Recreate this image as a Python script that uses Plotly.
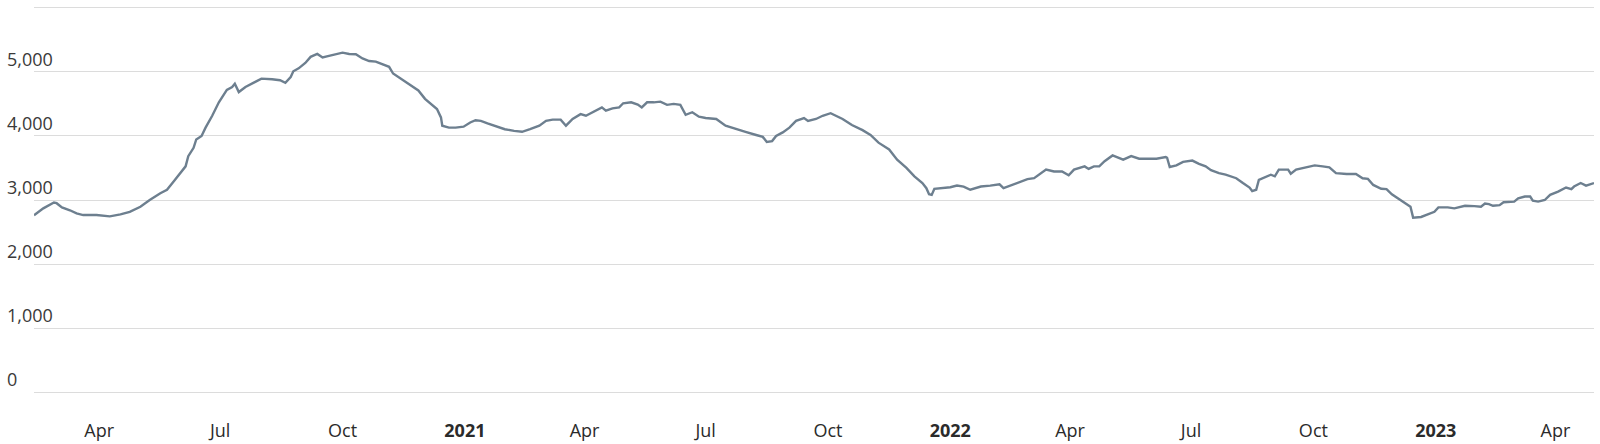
import pandas as pd
import plotly.graph_objects as go

start_date = "2020-02-12"

day_offsets = [
    0, 7, 15, 17, 21, 27, 32, 37, 47, 57, 65, 72, 80, 87, 95, 100, 105, 110, 114, 116, 120, 122, 126, 129, 134, 139, 145, 149, 151, 154, 159, 166,
    171, 179, 185, 189, 193, 195, 199, 204, 208, 213, 217, 221, 226, 232, 237, 242, 247, 252, 257, 262, 267, 270, 277, 283, 289, 294, 299, 303, 306, 307, 312, 317, 323, 328, 332, 336,
    341, 348, 354, 361, 367, 373, 380, 385, 390, 396, 400, 405, 411, 415, 420, 425, 427, 430, 435, 440, 443, 449, 454, 457, 461, 466, 471, 476, 481, 486, 490, 495, 500, 505,
    513, 520, 528, 535, 543, 548, 551, 555, 558, 563, 568, 573, 579, 582, 588, 593, 599, 603, 608, 615, 623, 629, 635, 643, 649, 656, 662, 668, 671, 673, 675,
    677, 682, 689, 694, 699, 704, 712, 719, 726, 729, 734, 741, 747, 752, 757, 761, 767, 773, 778, 782, 790, 793, 797, 801, 805, 811, 819, 825, 831, 837, 844,
    851, 852, 854, 859, 864, 871, 876, 881, 885, 891, 896, 904, 909, 914, 916, 919, 921, 926, 930, 933, 936, 943, 945, 949, 957, 963, 969, 974, 979, 987, 994, 999, 1003, 1007, 1013,
    1017, 1021, 1026, 1031, 1035, 1037, 1043, 1048, 1053, 1056, 1063, 1068, 1076, 1083, 1088, 1091, 1094, 1097, 1102, 1105, 1113, 1116, 1121, 1125, 1127, 1131, 1136, 1140, 1146, 1152, 1156, 1158, 1163, 1167, 1170, 1173,
]

values = [
    2760, 2870, 2960, 2950, 2885, 2840, 2790, 2765, 2765, 2745, 2775, 2815, 2895, 3000, 3105, 3160, 3290, 3420, 3525, 3685, 3815, 3945, 4000, 4130, 4315, 4525, 4720, 4765, 4815, 4685, 4765, 4840,
    4895, 4885, 4870, 4830, 4920, 5010, 5055, 5140, 5235, 5280, 5225, 5245, 5275, 5300, 5280, 5275, 5210, 5170, 5160, 5120, 5080, 4975, 4880, 4800, 4710, 4580, 4485, 4420, 4290, 4160, 4130, 4130, 4145, 4210, 4245, 4235,
    4195, 4140, 4105, 4080, 4065, 4105, 4160, 4235, 4255, 4255, 4160, 4265, 4340, 4315, 4370, 4420, 4445, 4395, 4430, 4445, 4510, 4525, 4490, 4445, 4525, 4525, 4535, 4485, 4500, 4485, 4330, 4370, 4300, 4280,
    4265, 4160, 4105, 4065, 4015, 3985, 3905, 3920, 4000, 4055, 4130, 4235, 4280, 4235, 4265, 4315, 4355, 4315, 4265, 4170, 4090, 4015, 3895, 3790, 3630, 3500, 3370, 3265, 3185, 3090, 3080,
    3175, 3185, 3200, 3225, 3210, 3160, 3210, 3225, 3245, 3185, 3225, 3280, 3325, 3340, 3420, 3475, 3445, 3445, 3385, 3475, 3525, 3485, 3525, 3525, 3605, 3695, 3630, 3685, 3645, 3645, 3645,
    3670, 3660, 3515, 3540, 3595, 3615, 3565, 3525, 3465, 3420, 3395, 3340, 3265, 3195, 3140, 3160, 3315, 3355, 3395, 3370, 3475, 3475, 3410, 3475, 3510, 3540, 3525, 3510, 3420, 3405, 3405, 3340, 3330, 3235, 3175,
    3170, 3090, 3025, 2960, 2895, 2725, 2735, 2775, 2815, 2885, 2885, 2870, 2910, 2905, 2895, 2945, 2935, 2910, 2920, 2965, 2975, 3025, 3055, 3055, 2990, 2975, 3000, 3080, 3130, 3195, 3170, 3210, 3265, 3225, 3245, 3265,
]

x_tick_dates = ["2020-04-01", "2020-07-01", "2020-10-01", "2021-01-01", "2021-04-01", "2021-07-01", "2021-10-01",
                "2022-01-01", "2022-04-01", "2022-07-01", "2022-10-01", "2023-01-01", "2023-04-01"]
x_tick_labels = ["Apr", "Jul", "Oct", "<b>2021</b>", "Apr", "Jul", "Oct",
                 "<b>2022</b>", "Apr", "Jul", "Oct", "<b>2023</b>", "Apr"]

y_tick_values = [0, 1000, 2000, 3000, 4000, 5000, 6000]
y_tick_labels = ["0", "1,000", "2,000", "3,000", "4,000", "5,000", ""]

dates = pd.Timestamp(start_date) + pd.to_timedelta(day_offsets, unit="D")

fig = go.Figure()
fig.add_trace(go.Scatter(
    x=dates, y=values, mode="lines",
    line=dict(color="#6d7f8f", width=2.4),
    hoverinfo="skip", showlegend=False,
))

W, H = 1600, 444
ml, mr, mt, mb = 0, 6, 4, 48
plot_w = W - ml - mr
x_dom_start = (34 - ml) / plot_w

fig.update_layout(
    width=W, height=H,
    margin=dict(l=ml, r=mr, t=mt, b=mb, pad=0),
    paper_bgcolor="white", plot_bgcolor="white",
    font=dict(family="Open Sans", size=18, color="#333333"),
    xaxis=dict(
        domain=[x_dom_start, 1],
        range=[dates[0], dates[-1]],
        tickvals=x_tick_dates, ticktext=x_tick_labels,
        showgrid=False, zeroline=False, showline=False,
        ticks="outside", ticklen=18, tickcolor="rgba(0,0,0,0)",
        tickfont=dict(size=18, color="#2b2b2b"),
        automargin=False,
    ),
    yaxis=dict(
        anchor="free", position=0,
        range=[-60, 6060],
        tickvals=y_tick_values, ticktext=y_tick_labels,
        ticklabelposition="inside top", ticklabelstandoff=3,
        showgrid=True, gridcolor="#dcdcdc", gridwidth=1,
        zeroline=False, showline=False, ticks="",
        tickfont=dict(size=18, color="#3a3a3a"),
        automargin=False,
    ),
)

fig.write_html("out.html", config={"displayModeBar": False},
               post_script="document.body.style.margin='0px';")
